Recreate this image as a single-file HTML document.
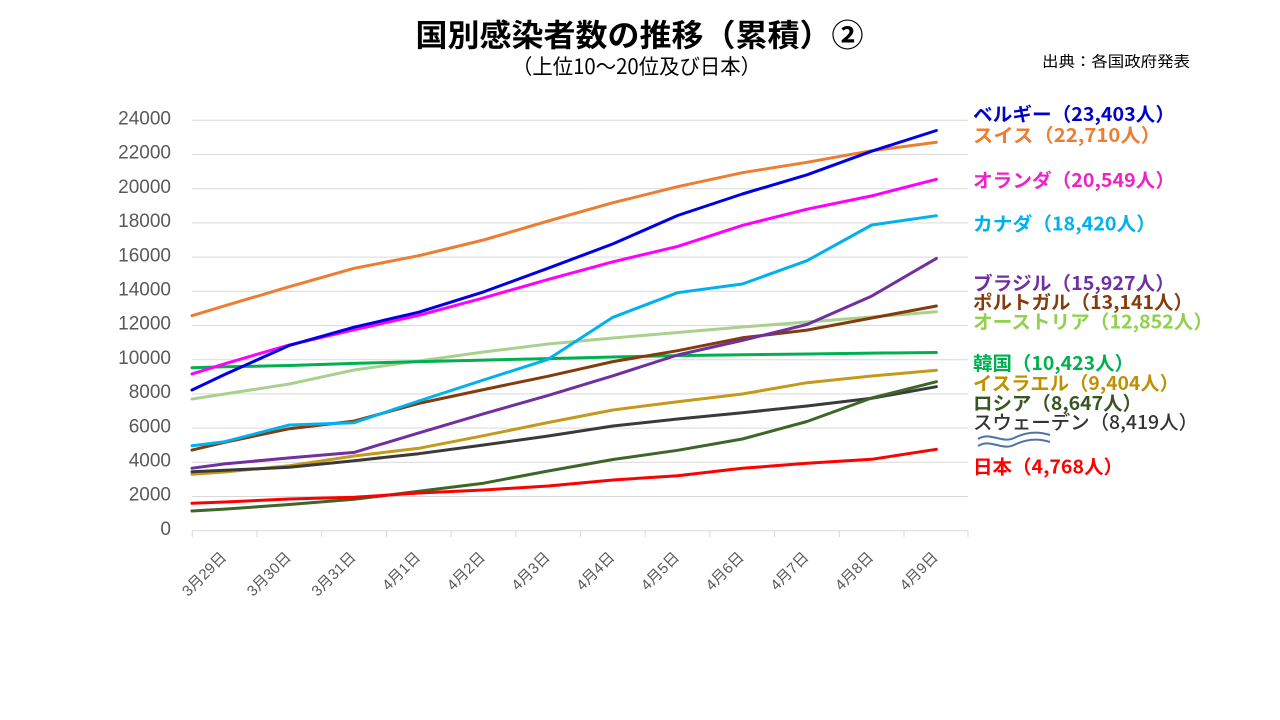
<!DOCTYPE html>
<html>
<head>
<meta charset="utf-8">
<style>
html,body{margin:0;padding:0;background:#fff;}
svg{display:block;}
.yl{font-family:"Liberation Sans","Noto Sans CJK JP",sans-serif;font-size:19px;fill:#595959;}
.xl{font-family:"Liberation Sans","Noto Sans CJK JP",sans-serif;font-size:15px;fill:#595959;}
.lb{font-family:"Noto Sans CJK JP","Liberation Sans",sans-serif;font-size:19px;font-weight:bold;}
</style>
</head>
<body>
<svg width="1280" height="720" viewBox="0 0 1280 720" xmlns="http://www.w3.org/2000/svg">
<rect width="1280" height="720" fill="#fff"/>

<!-- Title -->
<text x="415.5" y="33" dominant-baseline="central" textLength="448" lengthAdjust="spacingAndGlyphs" style="font-family:'Noto Sans CJK JP','Liberation Sans',sans-serif;font-size:31px;font-weight:bold;fill:#000;">国別感染者数の推移（累積）②</text>
<text x="512" y="66" dominant-baseline="central" textLength="249" lengthAdjust="spacingAndGlyphs" style="font-family:'Noto Sans CJK JP','Liberation Sans',sans-serif;font-size:21px;fill:#000;">（上位10～20位及び日本）</text>
<text x="1042" y="61" dominant-baseline="central" textLength="148" lengthAdjust="spacingAndGlyphs" style="font-family:'Noto Sans CJK JP','Liberation Sans',sans-serif;font-size:15px;fill:#000;">出典：各国政府発表</text>

<!-- Gridlines -->
<g stroke="#d9d9d9" stroke-width="1">
<line x1="192" x2="968" y1="120.3" y2="120.3"/>
<line x1="192" x2="968" y1="154.5" y2="154.5"/>
<line x1="192" x2="968" y1="188.7" y2="188.7"/>
<line x1="192" x2="968" y1="222.9" y2="222.9"/>
<line x1="192" x2="968" y1="257.1" y2="257.1"/>
<line x1="192" x2="968" y1="291.3" y2="291.3"/>
<line x1="192" x2="968" y1="325.5" y2="325.5"/>
<line x1="192" x2="968" y1="359.7" y2="359.7"/>
<line x1="192" x2="968" y1="393.9" y2="393.9"/>
<line x1="192" x2="968" y1="428.1" y2="428.1"/>
<line x1="192" x2="968" y1="462.3" y2="462.3"/>
<line x1="192" x2="968" y1="496.5" y2="496.5"/>
<line x1="192" x2="968" y1="530.7" y2="530.7"/>
<!-- ticks -->
<line x1="192.3" x2="192.3" y1="530.7" y2="537"/>
<line x1="257" x2="257" y1="530.7" y2="537"/>
<line x1="321.7" x2="321.7" y1="530.7" y2="537"/>
<line x1="386.4" x2="386.4" y1="530.7" y2="537"/>
<line x1="451.1" x2="451.1" y1="530.7" y2="537"/>
<line x1="515.8" x2="515.8" y1="530.7" y2="537"/>
<line x1="580.5" x2="580.5" y1="530.7" y2="537"/>
<line x1="645.2" x2="645.2" y1="530.7" y2="537"/>
<line x1="709.9" x2="709.9" y1="530.7" y2="537"/>
<line x1="774.6" x2="774.6" y1="530.7" y2="537"/>
<line x1="839.3" x2="839.3" y1="530.7" y2="537"/>
<line x1="904" x2="904" y1="530.7" y2="537"/>
<line x1="968" x2="968" y1="530.7" y2="537"/>
</g>

<!-- Y labels -->
<g class="yl" text-anchor="end" dominant-baseline="central">
<text x="171" y="119">24000</text>
<text x="171" y="153.2">22000</text>
<text x="171" y="187.4">20000</text>
<text x="171" y="221.6">18000</text>
<text x="171" y="255.8">16000</text>
<text x="171" y="290">14000</text>
<text x="171" y="324.2">12000</text>
<text x="171" y="358.4">10000</text>
<text x="171" y="392.6">8000</text>
<text x="171" y="426.8">6000</text>
<text x="171" y="461">4000</text>
<text x="171" y="495.2">2000</text>
<text x="171" y="529.4">0</text>
</g>

<!-- X labels -->
<g class="xl" text-anchor="end" dominant-baseline="central">
<text x="224" y="555" transform="rotate(-45 224 555)">3月29日</text>
<text x="288.7" y="555" transform="rotate(-45 288.7 555)">3月30日</text>
<text x="353.4" y="555" transform="rotate(-45 353.4 555)">3月31日</text>
<text x="418.1" y="555" transform="rotate(-45 418.1 555)">4月1日</text>
<text x="482.8" y="555" transform="rotate(-45 482.8 555)">4月2日</text>
<text x="547.5" y="555" transform="rotate(-45 547.5 555)">4月3日</text>
<text x="612.2" y="555" transform="rotate(-45 612.2 555)">4月4日</text>
<text x="676.9" y="555" transform="rotate(-45 676.9 555)">4月5日</text>
<text x="741.6" y="555" transform="rotate(-45 741.6 555)">4月6日</text>
<text x="806.3" y="555" transform="rotate(-45 806.3 555)">4月7日</text>
<text x="871" y="555" transform="rotate(-45 871 555)">4月8日</text>
<text x="935.7" y="555" transform="rotate(-45 935.7 555)">4月9日</text>
</g>

<!-- Series -->
<g fill="none" stroke-width="3" stroke-linejoin="round" stroke-linecap="round">
<polyline stroke="#A9D18E" points="192,399 224.7,394 289.4,384 354.1,370 418.8,361 483.5,352 548.2,344 612.9,338 677.6,332.5 742.3,327 807,322 871.7,317 936.4,311.7"/>
<polyline stroke="#00B050" points="192,367.7 224.7,366.8 289.4,365.5 354.1,363.4 418.8,361.6 483.5,360.1 548.2,358.6 612.9,357 677.6,355.6 742.3,354.8 807,354 871.7,353.1 936.4,352.5"/>
<polyline stroke="#843C0C" points="192,450.1 224.7,442.3 289.4,428.7 354.1,421.1 418.8,403.4 483.5,389.6 548.2,376.2 612.9,361.6 677.6,350.7 742.3,337.8 807,330.1 871.7,318 936.4,306"/>
<polyline stroke="#00B0F0" points="192,445.7 224.7,441.7 289.4,425 354.1,422.7 418.8,401 483.5,380 548.2,359.3 612.9,317.3 677.6,292.7 742.3,284 807,260.7 871.7,225 936.4,215.7"/>
<polyline stroke="#7030A0" points="192,468.2 224.7,463.9 289.4,457.9 354.1,452.4 418.8,432.9 483.5,413.8 548.2,395.4 612.9,375.8 677.6,355 742.3,340.4 807,324.5 871.7,296.1 936.4,258.4"/>
<polyline stroke="#C49A1A" points="192,474.3 224.7,472 289.4,465.7 354.1,456 418.8,448.3 483.5,435.7 548.2,422.5 612.9,410 677.6,401.7 742.3,394 807,382.7 871.7,376 936.4,370.3"/>
<polyline stroke="#3A3A3A" points="192,471.7 224.7,470.3 289.4,467.3 354.1,460.7 418.8,453.7 483.5,445 548.2,436 612.9,426 677.6,419 742.3,412.7 807,406 871.7,398.3 936.4,386.7"/>
<polyline stroke="#3D6628" points="192,511 224.7,509.1 289.4,504.5 354.1,499.3 418.8,491.3 483.5,483.2 548.2,471 612.9,459.5 677.6,450.3 742.3,439 807,421.5 871.7,398 936.4,381.7"/>
<polyline stroke="#FF0000" points="192,503.3 224.7,502 289.4,499 354.1,497.3 418.8,493 483.5,490 548.2,486 612.9,480 677.6,475.7 742.3,468.3 807,463.3 871.7,459.3 936.4,449.3"/>
<polyline stroke="#FF00FF" points="192,373.9 224.7,363.8 289.4,344.9 354.1,329.8 418.8,315.3 483.5,297.9 548.2,279.4 612.9,261.8 677.6,246.4 742.3,225.4 807,209.2 871.7,195.9 936.4,179.3"/>
<polyline stroke="#ED7D31" points="192,315.7 224.7,305.8 289.4,286.7 354.1,268.3 418.8,255.7 483.5,240 548.2,221 612.9,202.7 677.6,186.7 742.3,172.7 807,162.3 871.7,150.7 936.4,142.3"/>
<polyline stroke="#0000E6" points="192,390 224.7,374.5 289.4,345.4 354.1,327.2 418.8,312.2 483.5,291.9 548.2,268.2 612.9,243.9 677.6,215.5 742.3,194 807,174.8 871.7,151.2 936.4,130.5"/>
</g>

<!-- Labels -->
<g class="lb" dominant-baseline="central">
<text x="973" y="113.3" fill="#0000CC" textLength="202" lengthAdjust="spacingAndGlyphs">ベルギー（23,403人）</text>
<text x="973" y="134.3" fill="#ED7D31" textLength="188" lengthAdjust="spacingAndGlyphs">スイス（22,710人）</text>
<text x="973" y="179.3" fill="#F020C8" textLength="202" lengthAdjust="spacingAndGlyphs">オランダ（20,549人）</text>
<text x="973" y="223" fill="#00B0F0" textLength="183" lengthAdjust="spacingAndGlyphs">カナダ（18,420人）</text>
<text x="973" y="282.7" fill="#7030A0" textLength="202" lengthAdjust="spacingAndGlyphs">ブラジル（15,927人）</text>
<text x="973" y="301.7" fill="#843C0C" textLength="220" lengthAdjust="spacingAndGlyphs">ポルトガル（13,141人）</text>
<text x="973" y="321" fill="#92D050" textLength="240" lengthAdjust="spacingAndGlyphs">オーストリア（12,852人）</text>
<text x="973" y="362.7" fill="#00B050" textLength="161" lengthAdjust="spacingAndGlyphs">韓国（10,423人）</text>
<text x="973" y="382.7" fill="#BF9000" textLength="206" lengthAdjust="spacingAndGlyphs">イスラエル（9,404人）</text>
<text x="973" y="402.3" fill="#375623" textLength="169" lengthAdjust="spacingAndGlyphs">ロシア（8,647人）</text>
<text x="973" y="421.7" fill="#333333" font-weight="500" textLength="225" lengthAdjust="spacingAndGlyphs">スウェーデン（8,419人）</text>
<text x="973" y="466" fill="#FF0000" textLength="150" lengthAdjust="spacingAndGlyphs">日本（4,768人）</text>
</g>

<!-- Wave symbol -->
<g fill="none" stroke="#4F73A5" stroke-width="2">
<path d="M978 439 C990 431, 1002 444, 1014 438 S1038 431, 1050 435"/>
<path d="M978 446 C990 438, 1002 451, 1014 445 S1038 438, 1050 442"/>
</g>
</svg>
</body>
</html>
